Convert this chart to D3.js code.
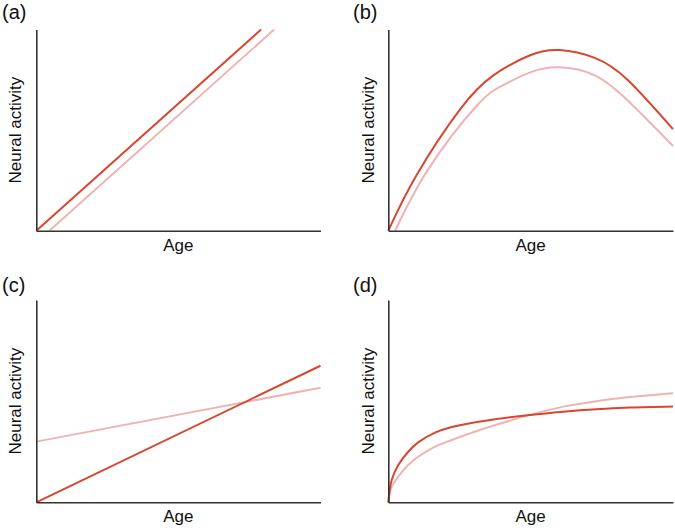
<!DOCTYPE html>
<html>
<head>
<meta charset="utf-8">
<script src="https://cdn.jsdelivr.net/npm/d3@7"></script>
<style>
  html, body { margin: 0; padding: 0; background: #fff; }
  svg { display: block; font-family: "Liberation Sans", Arial, Helvetica, sans-serif; }
</style>
</head>
<body>
<svg id="chart" width="675" height="530"></svg>
<script>
// ---- data (normalized units: Age 0-100, Neural activity 0-100) ----
const panelLabels = ["(a)", "(b)", "(c)", "(d)"];
const xAxisTitle = "Age";
const yAxisTitle = "Neural activity";

// (a) parallel linear increase
const aDark  = [[0, 0], [79.1, 100]];
const aLight = [[4.6, 0], [83.7, 100]];

// (b) inverted U
const bDark = [[0, 0], [10.0, 27.8], [25.2, 60.3], [36.9, 77.2], [49.8, 87.2],
               [60.2, 89.8], [72.5, 85.9], [84.2, 74.8], [100, 50.5]];
const bLight = [[2.4, 0], [14.0, 30.5], [31.0, 62.0], [40.5, 72.5], [49.8, 78.7],
                [60.2, 81.2], [72.5, 77.2], [84.2, 64.6], [100, 42.1]];

// (c) crossing lines
const cDark  = [[0, 0], [100, 67.5]];
const cLight = [[0, 30.0], [100, 56.6]];

// (d) saturating curves
const dDark = [[0, 0], [1.2, 11.0], [3.5, 18.4], [7.0, 25.0], [10.5, 29.6], [16.4, 34.4],
               [22.3, 37.2], [34.0, 40.3], [49.8, 43.2], [61.5, 44.8], [73.2, 46.0],
               [84.9, 46.8], [100, 47.3]];
const dLight = [[0, 0], [1.2, 7.7], [3.5, 12.7], [7.0, 18.4], [10.5, 22.5], [16.4, 27.5],
                [22.3, 30.8], [34.0, 36.6], [49.8, 43.2], [61.5, 47.3],
                [73.2, 50.0], [84.9, 52.0], [100, 53.9]];

const seriesByPanel = [
  [aLight, aDark],
  [bLight, bDark],
  [cLight, cDark],
  [dLight, dDark]
];

// ---- layout ----
const darkColor = "#d9462f";
const lightColor = "#efb3b3";
const axisColor = "#333333";

const cols = [{x0: 36.3, x1: 320.5}, {x0: 388.3, x1: 673}];
const rows = [{y0: 29.5, y1: 230.7}, {y0: 300, y1: 502.3}];
const labelPos = [{x: 2, y: 18.5}, {x: 353, y: 18.5}, {x: 2, y: 292}, {x: 353, y: 292}];
const yTitleX = [21, 374];
const curves = [d3.curveLinear, d3.curveNatural, d3.curveLinear, d3.curveCatmullRom.alpha(0.5)];

const svg = d3.select("#chart");

seriesByPanel.forEach((series, i) => {
  const c = cols[i % 2], r = rows[Math.floor(i / 2)];
  const x = d3.scaleLinear().domain([0, 100]).range([c.x0, c.x1]);
  const y = d3.scaleLinear().domain([0, 100]).range([r.y1, r.y0]);
  const g = svg.append("g");

  const line = d3.line()
    .x(d => x(d[0])).y(d => y(d[1]))
    .curve(curves[i]);

  series.forEach((s, k) => {
    g.append("path")
      .datum(s)
      .attr("fill", "none")
      .attr("stroke", k === 0 ? lightColor : darkColor)
      .attr("stroke-width", 2)
      .attr("stroke-linecap", "butt")
      .attr("d", line);
  });

  // axes (no ticks)
  const xAxis = d3.axisBottom(x).tickValues([]).tickSizeOuter(0);
  const yAxis = d3.axisLeft(y).tickValues([]).tickSizeOuter(0);
  g.append("g").attr("transform", `translate(0,${r.y1})`).call(xAxis)
    .select(".domain").attr("stroke", axisColor).attr("stroke-width", 1.6);
  g.append("g").attr("transform", `translate(${c.x0},0)`).call(yAxis)
    .select(".domain").attr("stroke", axisColor).attr("stroke-width", 1.6);

  // titles
  g.append("text")
    .attr("x", (c.x0 + c.x1) / 2)
    .attr("y", r.y1 + 20)
    .attr("text-anchor", "middle")
    .attr("font-size", 17)
    .attr("fill", "#111")
    .text(xAxisTitle);

  g.append("text")
    .attr("transform", `translate(${yTitleX[i % 2]},${(r.y0 + r.y1) / 2}) rotate(-90)`)
    .attr("text-anchor", "middle")
    .attr("font-size", 17)
    .attr("fill", "#111")
    .text(yAxisTitle);

  g.append("text")
    .attr("x", labelPos[i].x)
    .attr("y", labelPos[i].y)
    .attr("font-size", 20)
    .attr("fill", "#111")
    .text(panelLabels[i]);
});
</script>
</body>
</html>
